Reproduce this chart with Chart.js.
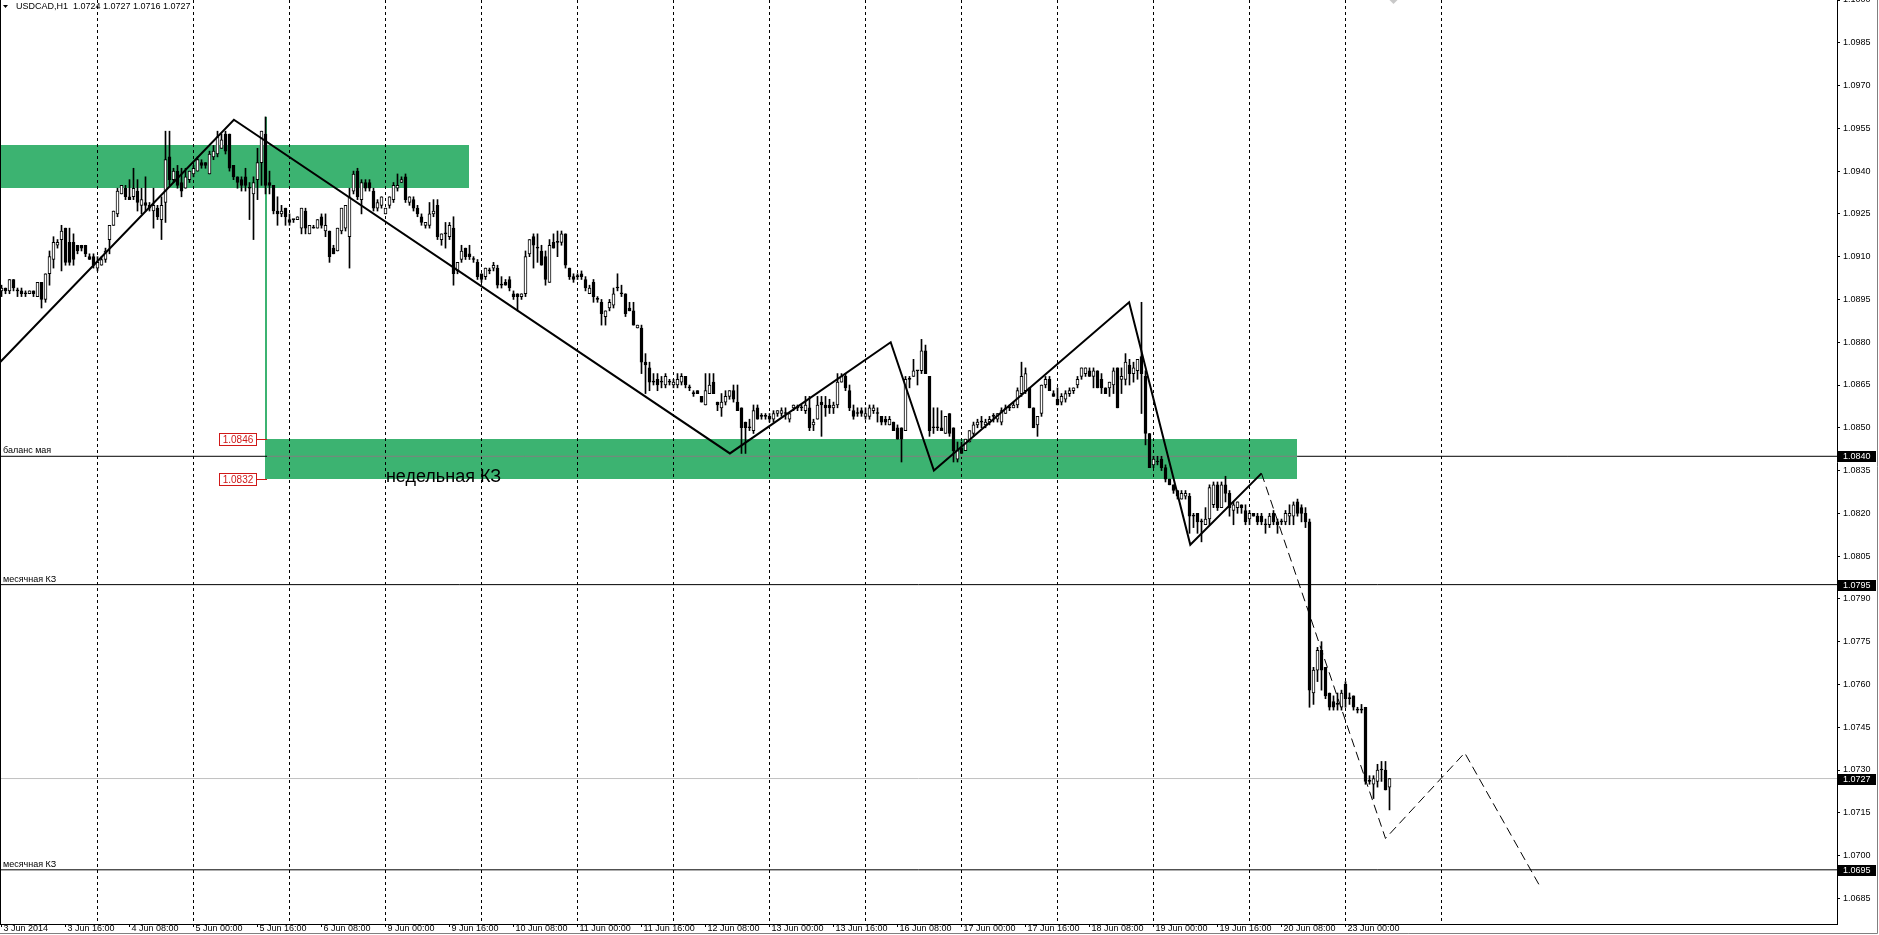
<!DOCTYPE html>
<html><head><meta charset="utf-8">
<script src="https://cdn.jsdelivr.net/npm/chart.js@4.4.1/dist/chart.umd.min.js"></script>
<style>html,body{margin:0;padding:0;background:#fff;overflow:hidden}#wrap{width:1879px;height:935px;position:relative}</style>
</head><body><div id="wrap"><canvas id="c" width="1879" height="935"></canvas></div>
<script>
// ---- DATA (H1 bars, index = hours since 3 Jun 2014 00:00, weekends skipped) ----
const symbolName = 'USDCAD,H1';
const opens = [
1.0898,1.0899,1.0898,1.0902,1.0898,1.0898,1.0897,1.0897,1.0898,1.0896,
1.0901,1.0895,1.0904,1.0909,1.0914,1.0916,1.0920,1.0915,1.0915,1.0914,
1.0914,1.0914,1.0910,1.0910,1.0906,1.0907,1.0909,1.0916,1.0921,1.0925,
1.0932,1.0934,1.0931,1.0931,1.0933,1.0928,1.0929,1.0928,1.0926,1.0927,
1.0923,1.0929,1.0945,1.0937,1.0940,1.0936,1.0934,1.0937,1.0939,1.0940,
1.0943,1.0943,1.0939,1.0945,1.0946,1.0948,1.0953,1.0953,1.0942,1.0938,
1.0937,1.0938,1.0934,1.0932,1.0937,1.0943,1.0953,1.0936,1.0935,1.0926,
1.0925,1.0927,1.0923,1.0923,1.0923,1.0920,1.0926,1.0918,1.0920,1.0920,
1.0924,1.0919,1.0919,1.0913,1.0912,1.0919,1.0920,1.0917,1.0933,1.0940,
1.0930,1.0936,1.0936,1.0933,1.0927,1.0928,1.0925,1.0928,1.0930,1.0934,
1.0936,1.0938,1.0929,1.0930,1.0927,1.0924,1.0921,1.0921,1.0925,1.0928,
1.0916,1.0918,1.0917,1.0920,1.0905,1.0909,1.0913,1.0911,1.0909,1.0908,
1.0904,1.0903,1.0905,1.0906,1.0906,1.0900,1.0901,1.0902,1.0897,1.0897,
1.0896,1.0897,1.0911,1.0917,1.0913,1.0912,1.0910,1.0901,1.0915,1.0915,
1.0915,1.0918,1.0906,1.0903,1.0903,1.0904,1.0902,1.0897,1.0901,1.0895,
1.0894,1.0889,1.0892,1.0893,1.0899,1.0897,1.0897,1.0892,1.0891,1.0885,
1.0885,1.0873,1.0871,1.0866,1.0867,1.0866,1.0865,1.0866,1.0865,1.0865,
1.0866,1.0868,1.0864,1.0862,1.0863,1.0861,1.0858,1.0862,1.0866,1.0859,
1.0857,1.0859,1.0861,1.0863,1.0859,1.0857,1.0852,1.0850,1.0849,1.0857,
1.0854,1.0854,1.0854,1.0853,1.0855,1.0855,1.0855,1.0853,1.0857,1.0857,
1.0857,1.0856,1.0857,1.0851,1.0853,1.0859,1.0858,1.0858,1.0857,1.0858,
1.0866,1.0868,1.0863,1.0856,1.0855,1.0856,1.0854,1.0854,1.0856,1.0855,
1.0854,1.0853,1.0851,1.0852,1.0850,1.0850,1.0849,1.0867,1.0868,1.0870,
1.0870,1.0877,1.0868,1.0850,1.0850,1.0850,1.0848,1.0855,1.0850,1.0839,
1.0843,1.0842,1.0845,1.0848,1.0851,1.0852,1.0851,1.0852,1.0854,1.0853,
1.0852,1.0855,1.0857,1.0857,1.0858,1.0862,1.0863,1.0864,1.0857,1.0851,
1.0855,1.0865,1.0867,1.0862,1.0860,1.0859,1.0860,1.0862,1.0863,1.0865,
1.0868,1.0869,1.0870,1.0868,1.0870,1.0867,1.0864,1.0864,1.0865,1.0871,
1.0867,1.0867,1.0872,1.0869,1.0870,1.0875,1.0868,1.0848,1.0837,1.0838,
1.0839,1.0836,1.0832,1.0830,1.0828,1.0825,1.0826,1.0826,1.0819,1.0820,
1.0817,1.0816,1.0818,1.0823,1.0830,1.0822,1.0830,1.0827,1.0821,1.0822,
1.0823,1.0821,1.0818,1.0820,1.0819,1.0819,1.0816,1.0816,1.0820,1.0817,
1.0817,1.0817,1.0819,1.0819,1.0824,1.0822,1.0820,1.0817,1.0757,1.0765,
1.0772,1.0766,1.0757,1.0754,1.0753,1.0752,1.0760,1.0755,1.0756,1.0751,
1.0751,1.0752,1.0726,1.0725,1.0726,1.0730,1.0730,1.0724];
const highs = [
1.0900,1.0899,1.0902,1.0902,1.0899,1.0899,1.0898,1.0898,1.0898,1.0901,
1.0901,1.0904,1.0912,1.0917,1.0916,1.0921,1.0920,1.0920,1.0918,1.0914,
1.0914,1.0914,1.0911,1.0911,1.0910,1.0910,1.0913,1.0921,1.0926,1.0934,
1.0935,1.0935,1.0937,1.0941,1.0937,1.0934,1.0938,1.0929,1.0934,1.0928,
1.0931,1.0954,1.0954,1.0941,1.0942,1.0941,1.0941,1.0940,1.0942,1.0945,
1.0944,1.0943,1.0947,1.0949,1.0954,1.0953,1.0954,1.0953,1.0942,1.0938,
1.0938,1.0941,1.0936,1.0938,1.0948,1.0954,1.0959,1.0940,1.0935,1.0931,
1.0928,1.0927,1.0925,1.0923,1.0924,1.0927,1.0927,1.0921,1.0921,1.0923,
1.0925,1.0925,1.0919,1.0914,1.0920,1.0927,1.0928,1.0934,1.0940,1.0941,
1.0937,1.0937,1.0937,1.0934,1.0930,1.0931,1.0927,1.0931,1.0936,1.0939,
1.0938,1.0939,1.0931,1.0931,1.0928,1.0925,1.0922,1.0929,1.0930,1.0930,
1.0918,1.0922,1.0922,1.0924,1.0908,1.0914,1.0913,1.0914,1.0910,1.0909,
1.0904,1.0906,1.0906,1.0908,1.0907,1.0903,1.0902,1.0903,1.0898,1.0897,
1.0897,1.0912,1.0916,1.0918,1.0918,1.0914,1.0912,1.0916,1.0918,1.0919,
1.0919,1.0918,1.0906,1.0904,1.0904,1.0905,1.0903,1.0900,1.0902,1.0896,
1.0895,1.0891,1.0895,1.0899,1.0904,1.0900,1.0897,1.0894,1.0894,1.0886,
1.0886,1.0876,1.0873,1.0869,1.0869,1.0868,1.0869,1.0867,1.0867,1.0869,
1.0869,1.0868,1.0865,1.0863,1.0863,1.0861,1.0869,1.0869,1.0869,1.0859,
1.0862,1.0863,1.0863,1.0865,1.0865,1.0857,1.0852,1.0853,1.0858,1.0858,
1.0855,1.0855,1.0855,1.0856,1.0856,1.0857,1.0857,1.0855,1.0858,1.0858,
1.0858,1.0861,1.0861,1.0853,1.0861,1.0861,1.0861,1.0860,1.0859,1.0869,
1.0869,1.0869,1.0865,1.0858,1.0857,1.0857,1.0857,1.0858,1.0858,1.0857,
1.0854,1.0854,1.0854,1.0852,1.0851,1.0850,1.0868,1.0868,1.0874,1.0870,
1.0881,1.0879,1.0868,1.0857,1.0857,1.0856,1.0854,1.0855,1.0850,1.0845,
1.0845,1.0846,1.0849,1.0852,1.0853,1.0854,1.0853,1.0854,1.0855,1.0855,
1.0857,1.0858,1.0858,1.0859,1.0864,1.0873,1.0871,1.0864,1.0857,1.0854,
1.0865,1.0868,1.0868,1.0863,1.0864,1.0862,1.0863,1.0864,1.0864,1.0868,
1.0871,1.0871,1.0871,1.0871,1.0870,1.0869,1.0864,1.0866,1.0871,1.0871,
1.0871,1.0876,1.0874,1.0873,1.0874,1.0894,1.0870,1.0848,1.0840,1.0840,
1.0840,1.0837,1.0832,1.0830,1.0828,1.0828,1.0828,1.0827,1.0820,1.0820,
1.0818,1.0822,1.0830,1.0831,1.0831,1.0831,1.0833,1.0828,1.0824,1.0824,
1.0823,1.0823,1.0821,1.0820,1.0820,1.0820,1.0818,1.0820,1.0821,1.0818,
1.0818,1.0821,1.0823,1.0824,1.0825,1.0823,1.0822,1.0818,1.0766,1.0773,
1.0775,1.0766,1.0757,1.0756,1.0757,1.0758,1.0761,1.0757,1.0756,1.0752,
1.0753,1.0752,1.0728,1.0728,1.0732,1.0733,1.0733,1.0727];
const lows = [
1.0896,1.0897,1.0897,1.0898,1.0896,1.0896,1.0896,1.0897,1.0896,1.0896,
1.0892,1.0894,1.0900,1.0906,1.0913,1.0905,1.0907,1.0907,1.0907,1.0911,
1.0912,1.0910,1.0909,1.0906,1.0905,1.0907,1.0908,1.0911,1.0921,1.0924,
1.0932,1.0930,1.0930,1.0930,1.0926,1.0925,1.0926,1.0926,1.0920,1.0923,
1.0916,1.0922,1.0935,1.0936,1.0934,1.0931,1.0934,1.0936,1.0938,1.0940,
1.0941,1.0941,1.0939,1.0944,1.0945,1.0948,1.0946,1.0940,1.0937,1.0934,
1.0933,1.0933,1.0923,1.0916,1.0930,1.0935,1.0932,1.0932,1.0925,1.0921,
1.0924,1.0921,1.0921,1.0922,1.0923,1.0918,1.0918,1.0918,1.0920,1.0920,
1.0920,1.0917,1.0908,1.0911,1.0912,1.0918,1.0919,1.0906,1.0932,1.0930,
1.0925,1.0933,1.0933,1.0926,1.0926,1.0927,1.0925,1.0927,1.0929,1.0933,
1.0936,1.0929,1.0928,1.0926,1.0924,1.0921,1.0920,1.0920,1.0924,1.0916,
1.0914,1.0913,1.0916,1.0900,1.0904,1.0908,1.0909,1.0909,1.0908,1.0902,
1.0901,1.0902,1.0904,1.0905,1.0899,1.0899,1.0900,1.0898,1.0895,1.0891,
1.0895,1.0896,1.0910,1.0906,1.0908,1.0907,1.0900,1.0901,1.0913,1.0910,
1.0914,1.0906,1.0902,1.0901,1.0902,1.0902,1.0898,1.0897,1.0894,1.0894,
1.0886,1.0886,1.0891,1.0892,1.0898,1.0896,1.0889,1.0891,1.0886,1.0885,
1.0869,1.0862,1.0863,1.0865,1.0863,1.0864,1.0864,1.0865,1.0864,1.0864,
1.0865,1.0864,1.0863,1.0861,1.0862,1.0859,1.0858,1.0862,1.0862,1.0856,
1.0854,1.0858,1.0860,1.0859,1.0856,1.0841,1.0841,1.0849,1.0848,1.0853,
1.0853,1.0853,1.0852,1.0852,1.0854,1.0854,1.0853,1.0852,1.0856,1.0856,
1.0856,1.0855,1.0849,1.0849,1.0853,1.0847,1.0854,1.0855,1.0855,1.0857,
1.0866,1.0863,1.0856,1.0853,1.0854,1.0854,1.0853,1.0853,1.0855,1.0852,
1.0851,1.0851,1.0851,1.0849,1.0846,1.0838,1.0849,1.0864,1.0868,1.0865,
1.0869,1.0869,1.0847,1.0848,1.0849,1.0849,1.0848,1.0847,1.0838,1.0838,
1.0841,1.0842,1.0845,1.0847,1.0850,1.0850,1.0850,1.0851,1.0852,1.0852,
1.0851,1.0855,1.0856,1.0857,1.0857,1.0861,1.0862,1.0857,1.0850,1.0847,
1.0854,1.0864,1.0863,1.0861,1.0858,1.0858,1.0859,1.0861,1.0862,1.0864,
1.0867,1.0868,1.0868,1.0864,1.0864,1.0862,1.0862,1.0861,1.0862,1.0857,
1.0862,1.0865,1.0865,1.0866,1.0867,1.0855,1.0844,1.0836,1.0836,1.0837,
1.0835,1.0831,1.0830,1.0827,1.0825,1.0825,1.0825,1.0813,1.0815,1.0813,
1.0810,1.0816,1.0816,1.0822,1.0821,1.0822,1.0824,1.0819,1.0816,1.0820,
1.0820,1.0816,1.0816,1.0819,1.0816,1.0816,1.0813,1.0815,1.0816,1.0813,
1.0816,1.0816,1.0816,1.0816,1.0819,1.0817,1.0815,1.0752,1.0753,1.0761,
1.0758,1.0755,1.0751,1.0751,1.0751,1.0751,1.0752,1.0753,1.0751,1.0750,
1.0750,1.0725,1.0725,1.0720,1.0724,1.0726,1.0723,1.0716];
const closes = [
1.0899,1.0898,1.0902,1.0899,1.0898,1.0897,1.0897,1.0898,1.0897,1.0901,
1.0895,1.0904,1.0910,1.0915,1.0915,1.0919,1.0908,1.0908,1.0909,1.0912,
1.0913,1.0911,1.0909,1.0907,1.0908,1.0909,1.0912,1.0921,1.0926,1.0933,
1.0935,1.0931,1.0930,1.0934,1.0929,1.0930,1.0928,1.0927,1.0928,1.0924,
1.0928,1.0944,1.0937,1.0940,1.0935,1.0933,1.0938,1.0940,1.0941,1.0944,
1.0942,1.0942,1.0946,1.0947,1.0952,1.0951,1.0947,1.0941,1.0938,1.0936,
1.0935,1.0935,1.0934,1.0936,1.0943,1.0954,1.0935,1.0935,1.0926,1.0925,
1.0926,1.0924,1.0922,1.0923,1.0924,1.0927,1.0920,1.0921,1.0920,1.0923,
1.0921,1.0921,1.0910,1.0911,1.0920,1.0927,1.0928,1.0931,1.0939,1.0931,
1.0936,1.0934,1.0934,1.0927,1.0929,1.0931,1.0927,1.0931,1.0935,1.0935,
1.0937,1.0930,1.0931,1.0927,1.0925,1.0922,1.0922,1.0925,1.0926,1.0917,
1.0918,1.0918,1.0921,1.0904,1.0908,1.0912,1.0910,1.0910,1.0909,1.0903,
1.0902,1.0906,1.0905,1.0907,1.0900,1.0900,1.0900,1.0899,1.0896,1.0896,
1.0897,1.0910,1.0916,1.0914,1.0913,1.0907,1.0902,1.0914,1.0913,1.0915,
1.0918,1.0907,1.0903,1.0902,1.0903,1.0903,1.0899,1.0899,1.0896,1.0895,
1.0890,1.0891,1.0894,1.0897,1.0899,1.0897,1.0890,1.0891,1.0886,1.0886,
1.0873,1.0872,1.0866,1.0866,1.0865,1.0866,1.0868,1.0866,1.0866,1.0867,
1.0868,1.0865,1.0864,1.0862,1.0862,1.0859,1.0863,1.0865,1.0862,1.0858,
1.0859,1.0861,1.0863,1.0860,1.0856,1.0850,1.0850,1.0850,1.0856,1.0853,
1.0854,1.0854,1.0853,1.0855,1.0856,1.0856,1.0855,1.0855,1.0858,1.0857,
1.0857,1.0858,1.0850,1.0852,1.0858,1.0858,1.0857,1.0857,1.0858,1.0866,
1.0868,1.0864,1.0857,1.0854,1.0855,1.0855,1.0855,1.0857,1.0857,1.0855,
1.0852,1.0852,1.0853,1.0849,1.0846,1.0846,1.0867,1.0867,1.0870,1.0870,
1.0877,1.0869,1.0849,1.0850,1.0850,1.0849,1.0854,1.0848,1.0842,1.0842,
1.0841,1.0846,1.0849,1.0851,1.0852,1.0852,1.0852,1.0853,1.0854,1.0855,
1.0856,1.0857,1.0857,1.0858,1.0863,1.0868,1.0869,1.0857,1.0850,1.0854,
1.0865,1.0867,1.0863,1.0861,1.0858,1.0861,1.0862,1.0863,1.0864,1.0867,
1.0871,1.0871,1.0868,1.0870,1.0864,1.0864,1.0862,1.0866,1.0870,1.0857,
1.0868,1.0873,1.0869,1.0871,1.0874,1.0869,1.0848,1.0836,1.0839,1.0838,
1.0836,1.0832,1.0830,1.0828,1.0826,1.0827,1.0827,1.0819,1.0819,1.0817,
1.0817,1.0818,1.0829,1.0830,1.0822,1.0830,1.0827,1.0822,1.0823,1.0824,
1.0822,1.0817,1.0820,1.0819,1.0817,1.0817,1.0816,1.0819,1.0817,1.0816,
1.0817,1.0820,1.0820,1.0823,1.0820,1.0820,1.0817,1.0758,1.0765,1.0772,
1.0765,1.0756,1.0752,1.0752,1.0753,1.0757,1.0755,1.0755,1.0752,1.0751,
1.0751,1.0726,1.0726,1.0727,1.0730,1.0730,1.0723,1.0727];

// time-axis labels (hour index -> text)
const timeTickHours  = [0,16,32,48,64,80,96,112,128,144,160,176,192,208,224,240,256,272,288,304,320,336];
const timeTickLabels = ['3 Jun 2014','3 Jun 16:00','4 Jun 08:00','5 Jun 00:00','5 Jun 16:00','6 Jun 08:00',
  '9 Jun 00:00','9 Jun 16:00','10 Jun 08:00','11 Jun 00:00','11 Jun 16:00','12 Jun 08:00','13 Jun 00:00',
  '13 Jun 16:00','16 Jun 08:00','17 Jun 00:00','17 Jun 16:00','18 Jun 08:00','19 Jun 00:00','19 Jun 16:00',
  '20 Jun 08:00','23 Jun 00:00'];
// day separators (hour index of each midnight)
const daySeparatorHours = [24,48,72,96,120,144,168,192,216,240,264,288,312,336,360];
// price axis ticks
const priceTicks = [1.0685,1.0700,1.0715,1.0730,1.0745,1.0760,1.0775,1.0790,1.0805,1.0820,1.0835,
  1.0850,1.0865,1.0880,1.0895,1.0910,1.0925,1.0940,1.0955,1.0970,1.0985,1.1000];

// zigzag trend line (solid) and projected path (dashed)
const zigzagHours  = [-0.375, 58.1, 182.1, 222.3, 233.1, 281.9, 297.2, 315.0];
const zigzagPrices = [1.0873, 1.0958, 1.0841, 1.0880, 1.0835, 1.0894, 1.0809, 1.0834];
const projHours    = [315.0, 346.0, 365.8, 384.7];
const projPrices   = [1.0834, 1.0706, 1.0736, 1.0689];

// horizontal levels with their captions
const levelPrices = [1.0840, 1.0795, 1.0695];
const levelNames  = ['баланс мая', 'месячная КЗ', 'месячная КЗ'];
const bidPrice = 1.0727;
const axisMarkedPrices = [1.0840, 1.0795, 1.0727, 1.0695];

// zones (rectangles)
const zoneStartHours = [-0.375, 66.4];
const zoneEndHours   = [116.9, 323.9];
const zoneLowPrices  = [1.0934, 1.0832];
const zoneHighPrices = [1.0949, 1.0846];
const zoneCaption = 'недельная КЗ';
const zoneCaptionHour = 96.1, zoneCaptionPrice = 1.0831;
const markerHour = 66, markerTop = 1.0959, markerBottom = 1.0832;
// small grey arrow object cut by the top edge
const arrowHour = 348, arrowPrice = 1.1000;

// ---- CHART ----
const X_MIN = -0.375, X_MAX = X_MIN + 1837 / 4;
const Y_MIN = 1.0676, Y_MAX = 1.1000;
const GREEN = '#3cb371';
const FONT = '"Liberation Sans", Arial, sans-serif';

const idx = opens.map((_, i) => i);
const wickData = idx.map(i => ({x: i, y: [lows[i], highs[i]]}));
const bodyData = idx.map(i => ({x: i, y: [Math.min(opens[i], closes[i]), Math.max(opens[i], closes[i])]}));
const zigzagData = zigzagHours.map((h, k) => ({x: h, y: zigzagPrices[k]}));
const projData = projHours.map((h, k) => ({x: h, y: projPrices[k]}));

const levelDatasets = levelPrices.map((p, k) => {
  if (k === 0) {
    return {type: 'line', order: 5, data: [{x: X_MIN, y: p}, {x: zoneStartHours[1], y: p}, {x: zoneEndHours[1], y: p}, {x: X_MAX, y: p}],
      borderColor: '#000', borderWidth: 1, pointRadius: 0,
      segment: {borderColor: c => c.p0DataIndex === 1 ? '#808080' : '#000'}};
  }
  return {type: 'line', order: 5, data: [{x: X_MIN, y: p}, {x: X_MAX, y: p}], borderColor: '#000', borderWidth: 1, pointRadius: 0};
});

const overlay = {
  id: 'overlay',
  beforeDraw(chart) {
    const {ctx, chartArea: a, scales: {x, y}} = chart;
    ctx.save();
    ctx.fillStyle = '#fff';
    ctx.fillRect(0, 0, chart.width, chart.height);
    ctx.beginPath(); ctx.rect(a.left, a.top, a.right - a.left, a.bottom - a.top); ctx.clip();
    ctx.fillStyle = GREEN;
    zoneStartHours.forEach((h, k) => {
      const x0 = Math.round(x.getPixelForValue(h)), x1 = Math.round(x.getPixelForValue(zoneEndHours[k]));
      const y0 = Math.round(y.getPixelForValue(zoneHighPrices[k])), y1 = Math.round(y.getPixelForValue(zoneLowPrices[k]));
      ctx.fillRect(x0, y0, x1 - x0, y1 - y0);
    });
    const mx = Math.round(x.getPixelForValue(markerHour));
    ctx.fillRect(mx - 1, y.getPixelForValue(markerTop), 2, y.getPixelForValue(markerBottom) - y.getPixelForValue(markerTop));
    // grey arrow object
    const ax = x.getPixelForValue(arrowHour), ay = y.getPixelForValue(arrowPrice);
    ctx.fillStyle = '#c8c8c8';
    ctx.beginPath(); ctx.moveTo(ax, ay - 4); ctx.lineTo(ax + 4, ay); ctx.lineTo(ax, ay + 4); ctx.lineTo(ax - 4, ay); ctx.closePath(); ctx.fill();
    ctx.restore();
  },
  afterDraw(chart) {
    const {ctx, chartArea: a, scales: {x, y}} = chart;
    ctx.save();
    // left frame + window edges
    ctx.strokeStyle = '#000'; ctx.lineWidth = 1;
    ctx.beginPath(); ctx.moveTo(0.5, 0); ctx.lineTo(0.5, a.bottom); ctx.stroke();
    ctx.strokeStyle = '#808080';
    ctx.beginPath(); ctx.moveTo(0, 933.5); ctx.lineTo(1877.5, 933.5); ctx.lineTo(1877.5, 0); ctx.stroke();
    // level captions
    ctx.fillStyle = '#000'; ctx.font = '9px ' + FONT; ctx.textBaseline = 'alphabetic'; ctx.textAlign = 'left';
    levelPrices.forEach((p, k) => {
      ctx.fillText(levelNames[k], a.left + 3, Math.round(y.getPixelForValue(p)) - 3);
    });
    // zone caption
    ctx.font = '18px ' + FONT;
    ctx.fillText(zoneCaption, x.getPixelForValue(zoneCaptionHour), y.getPixelForValue(zoneCaptionPrice));
    // price marks of the lower zone
    const zx = Math.round(x.getPixelForValue(zoneStartHours[1]));
    ctx.font = '10px ' + FONT; ctx.textAlign = 'center'; ctx.textBaseline = 'middle';
    [zoneHighPrices[1], zoneLowPrices[1]].forEach(p => {
      const py = Math.round(y.getPixelForValue(p)) + 0.5;
      const bx = zx - 47.5;
      ctx.fillStyle = '#fff'; ctx.fillRect(bx, py - 6, 37, 12);
      ctx.strokeStyle = '#d01818'; ctx.lineWidth = 1;
      ctx.strokeRect(bx, py - 6, 37, 12);
      ctx.beginPath(); ctx.moveTo(bx + 37, py); ctx.lineTo(zx, py); ctx.stroke();
      ctx.fillStyle = '#d01818'; ctx.fillText(p.toFixed(4), bx + 18.5, py + 0.5);
    });
    // marked prices on the axis
    ctx.font = '9px ' + FONT; ctx.textAlign = 'left'; ctx.textBaseline = 'middle';
    axisMarkedPrices.forEach(p => {
      const py = Math.round(y.getPixelForValue(p));
      ctx.fillStyle = '#000'; ctx.fillRect(a.right + 1, py - 5, 38, 11);
      ctx.fillStyle = '#fff'; ctx.fillText(p.toFixed(4), a.right + 6, py + 0.5);
    });
    // header
    const last = opens.length - 1;
    ctx.fillStyle = '#000';
    ctx.beginPath(); ctx.moveTo(3, 5); ctx.lineTo(8, 5); ctx.lineTo(5.5, 8); ctx.closePath(); ctx.fill();
    ctx.font = '9px ' + FONT; ctx.textBaseline = 'middle';
    ctx.fillText(symbolName + '  ' + [opens[last], highs[last], lows[last], closes[last]].map(v => v.toFixed(4)).join(' '), 16, 7);
    ctx.restore();
  }
};

new Chart(document.getElementById('c'), {
  type: 'bar',
  data: {
    datasets: [
      {type: 'line', order: 0, data: zigzagData, borderColor: '#000', borderWidth: 2, pointRadius: 0, tension: 0, xAxisID: 'x', yAxisID: 'y'},
      {type: 'line', order: 0, data: projData, borderColor: '#000', borderWidth: 1, borderDash: [9, 5], pointRadius: 0, tension: 0, xAxisID: 'x', yAxisID: 'y'},
      {type: 'bar', order: 1, data: bodyData, grouped: false, barThickness: 3, minBarLength: 1,
        backgroundColor: c => closes[c.dataIndex] > opens[c.dataIndex] ? '#fff' : '#000',
        borderColor: '#000', borderWidth: 1, borderSkipped: false, xAxisID: 'x', yAxisID: 'y'},
      {type: 'bar', order: 2, data: wickData, grouped: false, barThickness: 1, minBarLength: 1,
        backgroundColor: '#000', borderWidth: 0, xAxisID: 'x', yAxisID: 'y'},
      {type: 'line', order: 4, data: [{x: X_MIN, y: bidPrice}, {x: X_MAX, y: bidPrice}], borderColor: '#c0c0c0', borderWidth: 1, pointRadius: 0, xAxisID: 'x', yAxisID: 'y'},
      ...levelDatasets.map(d => Object.assign(d, {xAxisID: 'x', yAxisID: 'y'}))
    ]
  },
  options: {
    responsive: false, animation: false, devicePixelRatio: 1, events: [],
    layout: {padding: 0},
    plugins: {legend: {display: false}, tooltip: {enabled: false}},
    scales: {
      x: {
        type: 'linear', position: 'bottom', min: X_MIN, max: X_MAX, offset: false,
        afterBuildTicks: s => { s.ticks = timeTickHours.map(v => ({value: v})); },
        afterFit: s => { s.height = 11; s.paddingLeft = 0; s.paddingRight = 0; },
        ticks: {autoSkip: false, maxRotation: 0, minRotation: 0, align: 'start', padding: -4, labelOffset: 2,
          color: '#000', font: {family: FONT, size: 9},
          callback: v => { const k = timeTickHours.indexOf(v); return k >= 0 ? timeTickLabels[k] : ''; }},
        grid: {drawOnChartArea: false, drawTicks: true, tickLength: 3, color: '#000', offset: false},
        border: {display: true, color: '#000', width: 1}
      },
      xg: {
        type: 'linear', position: 'bottom', min: X_MIN, max: X_MAX, offset: false,
        afterBuildTicks: s => { s.ticks = daySeparatorHours.map(v => ({value: v})); },
        afterFit: s => { s.height = 0; s.paddingLeft = 0; s.paddingRight = 0; },
        ticks: {display: false},
        grid: {drawOnChartArea: true, drawTicks: false, color: '#000', lineWidth: 1, offset: false},
        border: {display: false, dash: [3, 3]}
      },
      y: {
        type: 'linear', position: 'right', min: Y_MIN, max: Y_MAX,
        afterBuildTicks: s => { s.ticks = priceTicks.map(v => ({value: v})); },
        afterFit: s => { s.width = 42; s.paddingTop = 0; s.paddingBottom = 0; },
        ticks: {autoSkip: false, padding: 3, color: '#000', font: {family: FONT, size: 9}, callback: v => Number(v).toFixed(4)},
        grid: {drawOnChartArea: false, drawTicks: true, tickLength: 3, color: '#000'},
        border: {display: true, color: '#000', width: 1}
      }
    }
  },
  plugins: [overlay]
});
</script>
</body></html>
